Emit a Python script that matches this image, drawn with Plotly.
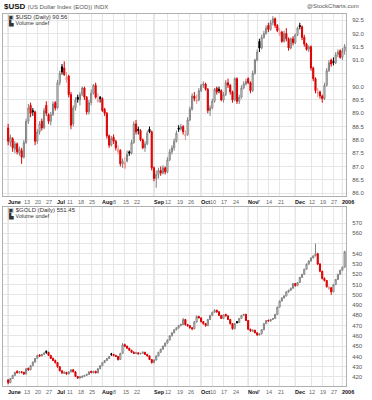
import plotly.graph_objects as go
import pandas as pd

# ---------------- data ----------------
usd_open = [88.45, 87.90, 88.05, 87.65, 87.85, 87.50, 87.60, 87.35, 87.90, 88.70,
 89.30, 89.10, 89.05, 87.95, 88.30, 88.70, 88.45, 89.30, 88.95, 88.70,
 88.95, 89.40, 89.20, 90.15, 90.75, 90.70, 90.25, 90.40, 89.70, 88.60,
 89.20, 89.60, 89.50, 89.70, 89.95, 89.60, 89.05, 89.40, 89.75, 90.05,
 89.45, 89.60, 89.55, 89.15, 89.00, 88.15, 87.80, 88.10, 87.95, 87.55,
 87.60, 87.10, 86.95, 87.20, 87.55, 87.50, 87.90, 88.60, 88.40, 88.35,
 88.00, 87.70, 87.85, 88.40, 88.30, 86.95, 86.55, 86.70, 86.85, 86.75,
 86.95, 86.80, 87.25, 87.55, 87.70, 87.95, 88.45, 88.40, 88.50, 88.15,
 88.20, 88.75, 89.15, 89.65, 89.45, 89.50, 89.85, 90.05, 90.10, 89.90,
 89.10, 89.20, 89.45, 89.95, 89.90, 89.85, 89.50, 89.70, 90.15, 90.05,
 89.80, 89.50, 90.30, 89.45, 89.60, 89.95, 90.10, 90.30, 90.15, 89.85,
 90.50, 91.00, 91.70, 91.45, 91.85, 92.00, 92.30, 92.15, 92.40, 92.55,
 92.30, 91.95, 92.05, 91.70, 92.00, 91.80, 91.45, 91.80, 91.65, 91.95,
 92.30, 92.25, 91.85, 91.60, 91.40, 91.50, 90.70, 90.30, 89.75, 89.80,
 89.65, 89.55, 90.05, 90.60, 91.00, 90.95, 90.90, 91.20, 91.35, 91.10,
 91.35]
usd_high = [88.60, 88.20, 88.10, 87.95, 87.90, 87.75, 87.70, 88.00, 88.80, 89.35,
 89.40, 89.20, 89.10, 88.40, 88.70, 88.80, 89.20, 89.45, 89.00, 89.05,
 89.45, 89.45, 90.25, 90.60, 90.85, 90.95, 90.55, 90.45, 89.80, 89.30,
 89.60, 89.70, 89.80, 90.00, 90.00, 89.65, 89.50, 89.90, 90.10, 90.15,
 89.75, 89.65, 89.60, 89.20, 89.05, 88.20, 88.15, 88.20, 88.00, 87.80,
 87.65, 87.30, 87.35, 87.60, 87.60, 88.00, 88.70, 88.75, 88.50, 88.40,
 88.05, 87.95, 88.35, 88.50, 88.35, 87.00, 86.85, 86.95, 87.00, 87.05,
 87.00, 87.35, 87.65, 87.80, 88.05, 88.35, 88.55, 88.60, 88.55, 88.35,
 88.85, 89.25, 89.75, 89.80, 89.70, 89.95, 90.10, 90.20, 90.15, 89.95,
 89.30, 89.55, 89.95, 90.00, 90.00, 89.90, 89.80, 90.25, 90.30, 90.10,
 89.85, 90.35, 90.35, 89.70, 90.05, 90.20, 90.30, 90.35, 90.20, 90.60,
 91.05, 91.40, 91.80, 91.95, 92.10, 92.30, 92.40, 92.50, 92.65, 92.60,
 92.35, 92.20, 92.10, 92.10, 92.20, 91.85, 91.85, 91.90, 92.00, 92.25,
 92.40, 92.30, 91.95, 91.65, 91.55, 91.55, 90.75, 90.35, 89.95, 89.85,
 89.70, 90.15, 90.70, 91.00, 91.05, 91.10, 91.30, 91.40, 91.40, 91.45,
 91.60]
usd_low = [87.80, 87.75, 87.55, 87.50, 87.45, 87.40, 87.10, 87.30, 87.85, 88.60,
 88.85, 88.90, 87.80, 87.85, 88.20, 88.35, 88.40, 88.90, 88.60, 88.55,
 88.90, 89.10, 89.15, 90.05, 90.45, 90.40, 90.15, 89.60, 88.40, 88.50,
 89.10, 89.40, 89.30, 89.65, 89.50, 88.95, 88.95, 89.30, 89.70, 89.55,
 89.40, 89.40, 89.05, 88.90, 88.05, 87.70, 87.75, 87.85, 87.60, 87.45,
 87.00, 86.95, 86.90, 87.15, 87.40, 87.45, 87.85, 88.20, 88.20, 87.95,
 87.65, 87.55, 87.80, 88.25, 86.85, 86.45, 86.20, 86.55, 86.65, 86.70,
 86.70, 86.75, 87.20, 87.45, 87.60, 87.90, 88.30, 88.35, 88.20, 88.00,
 88.15, 88.70, 89.10, 89.45, 89.35, 89.45, 89.80, 89.95, 89.85, 89.00,
 88.90, 89.15, 89.40, 89.70, 89.75, 89.45, 89.40, 89.65, 89.95, 89.70,
 89.40, 89.45, 89.35, 89.35, 89.55, 89.90, 90.05, 90.10, 89.75, 89.80,
 90.45, 90.95, 91.30, 91.40, 91.80, 91.95, 92.05, 92.10, 92.30, 92.20,
 92.05, 91.90, 91.65, 91.65, 91.70, 91.35, 91.40, 91.55, 91.60, 91.90,
 92.15, 91.75, 91.50, 91.35, 91.30, 90.60, 90.20, 89.75, 89.60, 89.55,
 89.40, 89.50, 90.00, 90.55, 90.75, 90.80, 90.85, 91.10, 91.05, 91.00,
 91.20]
usd_close = [87.95, 88.10, 87.70, 87.85, 87.55, 87.65, 87.35, 87.90, 88.70, 89.20,
 89.00, 89.05, 87.95, 88.30, 88.60, 88.45, 89.10, 89.00, 88.70, 88.95,
 89.35, 89.20, 90.15, 90.50, 90.55, 90.45, 90.35, 89.70, 88.55, 89.20,
 89.50, 89.52, 89.70, 89.95, 89.60, 89.05, 89.40, 89.75, 90.05, 89.60,
 89.50, 89.55, 89.10, 89.00, 88.15, 87.80, 88.05, 87.95, 87.70, 87.65,
 87.10, 87.20, 87.15, 87.45, 87.50, 87.90, 88.60, 88.30, 88.35, 88.00,
 87.70, 87.85, 88.25, 88.30, 86.95, 86.55, 86.70, 86.85, 86.75, 86.95,
 86.80, 87.25, 87.55, 87.70, 87.95, 88.25, 88.40, 88.50, 88.30, 88.20,
 88.75, 89.15, 89.65, 89.55, 89.50, 89.85, 90.05, 90.10, 89.90, 89.10,
 89.20, 89.45, 89.90, 89.80, 89.85, 89.50, 89.70, 90.15, 90.05, 89.80,
 89.50, 90.30, 89.45, 89.60, 89.95, 90.10, 90.20, 90.15, 89.85, 90.50,
 91.00, 91.30, 91.45, 91.85, 92.00, 92.20, 92.15, 92.40, 92.55, 92.30,
 92.10, 92.05, 91.70, 92.00, 91.80, 91.45, 91.80, 91.65, 91.95, 92.20,
 92.25, 91.85, 91.60, 91.40, 91.50, 90.70, 90.30, 89.85, 89.80, 89.65,
 89.55, 90.05, 90.60, 90.90, 90.85, 90.90, 91.20, 91.30, 91.10, 91.35,
 91.50]

gold_open = [417.0, 414.5, 418.5, 421.5, 425.5, 424.0, 425.0, 424.5, 423.0, 428.5,
 427.0, 431.0, 434.5, 438.0, 441.5, 440.5, 442.0, 445.0, 444.0, 441.0,
 438.0, 436.0, 434.0, 430.0, 426.0, 423.5, 424.5, 423.0, 425.0, 427.0,
 425.0, 420.5, 419.0, 419.5, 420.5, 421.5, 422.5, 425.5, 424.0, 425.5,
 424.0, 428.0, 431.0, 434.0, 436.0, 438.0, 442.5, 442.0, 441.0, 440.0,
 437.0, 443.0, 451.5, 450.0, 448.0, 446.0, 444.0, 443.0, 443.5, 442.5,
 443.0, 444.0, 442.0, 440.5, 437.0, 434.0, 436.5, 440.5, 444.0, 447.0,
 450.0, 453.0, 456.0, 460.0, 463.0, 466.0, 468.0, 470.0, 471.0, 476.0,
 471.0, 470.0, 468.0, 467.0, 473.5, 479.0, 477.5, 474.0, 472.0, 470.0,
 476.0, 480.0, 483.0, 485.0, 483.5, 480.0, 477.0, 481.0, 479.5, 476.0,
 472.0, 467.0, 474.0, 473.0, 477.0, 480.0, 481.0, 475.0, 466.5, 464.5,
 465.5, 463.0, 461.0, 462.0, 466.0, 472.0, 475.0, 474.5, 476.0, 477.0,
 481.0, 488.0, 494.0, 497.0, 499.0, 503.0, 504.5, 506.5, 511.0, 509.0,
 512.0, 517.0, 520.0, 525.0, 530.0, 533.0, 536.0, 538.0, 540.0, 530.0,
 523.0, 516.0, 514.0, 506.0, 507.0, 503.0, 510.0, 515.0, 520.0, 524.0,
 527.0]
gold_high = [418.0, 419.0, 422.0, 425.0, 426.5, 425.5, 425.5, 425.0, 428.5, 429.0,
 431.5, 435.0, 438.5, 441.5, 442.0, 442.5, 444.5, 446.0, 444.5, 441.5,
 439.0, 437.0, 434.5, 430.5, 426.5, 425.5, 425.0, 425.5, 427.5, 427.5,
 425.5, 421.0, 421.0, 421.5, 422.0, 423.0, 425.5, 426.0, 426.0, 426.0,
 428.5, 431.5, 434.5, 436.5, 438.5, 440.5, 443.5, 442.5, 441.5, 440.5,
 443.5, 453.0, 452.5, 450.5, 448.5, 446.5, 445.0, 444.5, 444.0, 443.5,
 445.0, 444.5, 442.5, 441.0, 437.5, 437.0, 441.0, 444.5, 447.5, 450.5,
 453.5, 456.5, 460.5, 463.5, 466.5, 468.5, 470.5, 472.0, 477.5, 476.5,
 471.5, 470.5, 468.5, 474.5, 480.0, 479.5, 478.0, 474.5, 472.5, 476.5,
 480.5, 483.5, 486.0, 485.5, 484.0, 480.5, 481.0, 481.5, 480.0, 476.5,
 472.5, 472.5, 474.5, 477.5, 480.5, 481.5, 481.5, 475.5, 467.0, 466.5,
 466.0, 463.5, 462.5, 466.5, 472.5, 475.5, 476.0, 476.5, 477.5, 481.5,
 488.5, 494.5, 497.5, 499.5, 503.5, 505.0, 507.0, 511.5, 511.5, 512.5,
 517.5, 520.5, 525.5, 530.5, 533.5, 536.5, 538.5, 550.0, 541.0, 531.0,
 523.5, 517.0, 514.5, 509.0, 507.5, 510.5, 515.5, 520.5, 524.5, 527.5,
 543.0]
gold_low = [413.0, 414.0, 418.0, 421.0, 423.5, 423.5, 423.5, 422.0, 422.5, 426.0,
 426.5, 430.5, 434.0, 437.5, 439.5, 440.0, 441.5, 442.5, 440.5, 437.5,
 435.5, 433.0, 429.0, 425.5, 423.0, 423.0, 422.0, 422.5, 424.5, 424.5,
 420.0, 418.0, 418.5, 419.0, 420.0, 421.0, 422.0, 423.5, 423.5, 423.5,
 423.5, 427.5, 430.5, 433.5, 435.5, 437.5, 440.5, 440.0, 439.5, 436.0,
 436.5, 442.5, 449.0, 447.5, 445.5, 443.5, 442.5, 442.5, 442.0, 442.0,
 442.5, 441.5, 440.0, 436.5, 433.0, 433.5, 436.0, 440.0, 443.5, 446.5,
 449.5, 452.5, 455.5, 459.5, 462.5, 465.5, 467.0, 469.5, 470.5, 470.0,
 469.0, 467.0, 465.5, 466.5, 473.0, 477.0, 473.0, 471.0, 469.0, 469.5,
 475.5, 479.5, 482.5, 482.5, 479.5, 476.5, 476.5, 479.0, 475.5, 471.0,
 466.0, 466.5, 472.0, 472.5, 476.5, 479.5, 474.5, 466.0, 464.0, 464.0,
 462.5, 460.0, 460.5, 461.5, 465.5, 471.5, 474.0, 474.0, 475.5, 476.5,
 480.5, 487.5, 493.5, 496.5, 498.5, 502.0, 504.0, 506.0, 508.0, 508.5,
 511.5, 516.5, 519.5, 524.5, 529.5, 532.5, 535.5, 537.5, 529.0, 522.0,
 515.0, 513.0, 507.0, 505.0, 500.0, 502.5, 509.5, 514.5, 519.5, 523.5,
 526.5]
gold_close = [414.5, 418.5, 421.5, 424.5, 424.0, 425.0, 424.5, 423.0, 428.0, 427.0,
 431.0, 434.5, 438.0, 441.0, 440.5, 442.0, 443.0, 444.0, 441.0, 438.0,
 436.0, 434.0, 430.0, 426.0, 424.0, 424.5, 423.0, 425.0, 427.0, 425.0,
 420.5, 419.0, 420.0, 420.5, 421.5, 422.5, 425.0, 424.5, 425.5, 424.0,
 428.0, 431.0, 434.0, 436.0, 438.0, 440.0, 442.0, 441.0, 440.0, 437.0,
 443.0, 451.5, 450.0, 448.0, 446.0, 444.0, 443.0, 443.5, 442.5, 443.0,
 444.0, 442.0, 440.5, 437.0, 434.0, 436.5, 440.5, 444.0, 447.0, 450.0,
 453.0, 456.0, 460.0, 463.0, 466.0, 468.0, 470.0, 471.0, 476.0, 471.0,
 470.0, 468.0, 467.0, 473.5, 479.0, 477.5, 474.0, 472.0, 470.0, 476.0,
 480.0, 483.0, 485.0, 483.5, 480.0, 477.0, 480.5, 479.5, 476.0, 472.0,
 467.0, 472.0, 473.0, 477.0, 480.0, 481.0, 475.0, 466.5, 465.0, 465.5,
 463.0, 461.0, 462.0, 466.0, 472.0, 475.0, 474.5, 476.0, 477.0, 481.0,
 488.0, 494.0, 497.0, 499.0, 503.0, 504.5, 506.5, 511.0, 509.0, 512.0,
 517.0, 520.0, 525.0, 530.0, 533.0, 536.0, 538.0, 540.0, 530.0, 523.0,
 516.0, 514.0, 508.0, 507.0, 503.0, 510.0, 515.0, 520.0, 524.0, 527.0,
 542.0]

holidays = ["2005-07-04", "2005-09-05", "2005-11-24", "2005-12-26", "2006-01-02"]
month_labels = [("2005-06-01", "June"), ("2005-07-01", "Jul"), ("2005-08-01", "Aug"),
                ("2005-09-01", "Sep"), ("2005-10-03", "Oct"), ("2005-11-01", "Nov"),
                ("2005-12-01", "Dec"), ("2006-01-03", "2006")]
day_labels = [("2005-06-13", "13"), ("2005-06-20", "20"), ("2005-06-27", "27"),
              ("2005-07-11", "11"), ("2005-07-18", "18"), ("2005-07-25", "25"),
              ("2005-08-08", "8"), ("2005-08-15", "15"), ("2005-08-22", "22"),
              ("2005-09-12", "12"), ("2005-09-19", "19"), ("2005-09-26", "26"),
              ("2005-10-10", "10"), ("2005-10-17", "17"), ("2005-10-24", "24"),
              ("2005-11-07", "7"), ("2005-11-14", "14"), ("2005-11-21", "21"),
              ("2005-12-12", "12"), ("2005-12-19", "19"), ("2005-12-27", "27")]
usd_ticks = [86.0, 86.5, 87.0, 87.5, 88.0, 88.5, 89.0, 89.5, 90.0, 90.5, 91.0, 91.5, 92.0, 92.5]
usd_ticktext = ["86.0", "86.5", "87.0", "87.5", "88.0", "88.5", "89.0", "89.5", "90.0", "",
                "91.0", "91.5", "92.0", "92.5"]
gold_ticks = [420, 430, 440, 450, 460, 470, 480, 490, 500, 510, 520, 530, 540, 550, 560, 570]
gold_ticktext = ["420", "430", "440", "450", "460", "470", "480", "490", "500", "510",
                 "520", "530", "540", "", "560", "570"]

# ---------------- build ----------------
n = len(usd_close)
dates = pd.bdate_range("2005-06-01", periods=n, freq="C", holidays=holidays)
date_pos = {d.strftime("%Y-%m-%d"): i for i, d in enumerate(dates)}
xs = list(range(n))

W, H = 372, 400
PX0, PX1 = 3, 346
TOP = (14, 196)
BOT = (207, 386)
FONT = "Liberation Sans"


def pdom(a, b):
    return [(H - b) / H, (H - a) / H]


STYLES = {
    "hb": dict(line="#808080", fill="#ffffff"),
    "hr": dict(line="#f09090", fill="#ffffff"),
    "fb": dict(line="#000000", fill="#000000"),
    "fr": dict(line="#dd0000", fill="#dd0000"),
}


def candle_traces(o, h, l, c, xa, ya):
    groups = {k: [] for k in STYLES}
    for i in range(len(c)):
        prev = c[i - 1] if i > 0 else o[i]
        hollow = c[i] >= o[i]
        up = c[i] >= prev
        groups[("h" if hollow else "f") + ("b" if up else "r")].append(i)
    out = []
    for k, idx in groups.items():
        st = STYLES[k]
        sty = dict(line=dict(color=st["line"], width=1), fillcolor=st["fill"])
        out.append(go.Candlestick(
            x=[xs[i] for i in idx], open=[o[i] for i in idx], high=[h[i] for i in idx],
            low=[l[i] for i in idx], close=[c[i] for i in idx],
            increasing=sty, decreasing=sty, whiskerwidth=0,
            xaxis=xa, yaxis=ya, showlegend=False, hoverinfo="skip"))
    return out


fig = go.Figure()
for t in candle_traces(usd_open, usd_high, usd_low, usd_close, "x", "y"):
    fig.add_trace(t)
for t in candle_traces(gold_open, gold_high, gold_low, gold_close, "x2", "y2"):
    fig.add_trace(t)

month_pos = [date_pos[d] for d, _ in month_labels]
day_pos = [date_pos[d] for d, _ in day_labels]
grid_x = sorted(month_pos + day_pos)
xr = [-2.3, 150.6]

xcommon = dict(range=xr, showticklabels=False, tickvals=grid_x, showgrid=True,
               gridcolor="#e6e6e6", gridwidth=1, zeroline=False, showline=True,
               linecolor="#b0b0b0", linewidth=1, mirror=True, ticks="",
               rangeslider=dict(visible=False), fixedrange=True,
               domain=[PX0 / W, PX1 / W])
ycommon = dict(side="right", showgrid=True, gridcolor="#e6e6e6", gridwidth=1,
               zeroline=False, showline=True, linecolor="#b0b0b0", linewidth=1,
               mirror=True, ticks="outside", ticklen=4, tickcolor="rgba(0,0,0,0)",
               tickfont=dict(family=FONT, size=6, color="#555555"),
               fixedrange=True)

fig.update_layout(
    width=W, height=H, margin=dict(l=0, r=0, t=0, b=0),
    paper_bgcolor="white", plot_bgcolor="white", boxgap=0.3,
    xaxis=dict(**xcommon, anchor="y"),
    xaxis2=dict(**xcommon, anchor="y2"),
    yaxis=dict(**ycommon, domain=pdom(*TOP), range=[85.89, 92.73],
               tickvals=usd_ticks, ticktext=usd_ticktext, anchor="x"),
    yaxis2=dict(**ycommon, domain=pdom(*BOT), range=[411.2, 585.6],
                tickvals=gold_ticks, ticktext=gold_ticktext, anchor="x2"),
)

shapes = []
for xa, ya in (("x", "y"), ("x2", "y2")):
    for p in month_pos:
        shapes.append(dict(type="line", xref=xa, yref=ya + " domain", x0=p, x1=p, y0=0, y1=1,
                           line=dict(color="#c8c8c8", width=1), layer="below"))
fig.update_layout(shapes=shapes)

ann = []
for xa, ypx in (("x", 202), ("x2", 392)):
    for (d, txt) in month_labels:
        ann.append(dict(x=date_pos[d] - 1.0, y=(H - ypx) / H, xref=xa, yref="paper",
                        text="<b>" + txt + "</b>", showarrow=False, xanchor="left",
                        yanchor="middle", font=dict(family=FONT, size=5.5, color="#111111")))
    for (d, txt) in day_labels:
        ann.append(dict(x=date_pos[d] + 0.4, y=(H - ypx) / H, xref=xa, yref="paper",
                        text=txt, showarrow=False, xanchor="center",
                        yanchor="middle", font=dict(family=FONT, size=5.5, color="#666666")))

ann.append(dict(x=2 / W, y=(H - 6) / H, xref="paper", yref="paper", xanchor="left",
                yanchor="middle", showarrow=False,
                text="<b>$USD</b> <span style='font-size:6px;color:#555'>(US Dollar Index (EOD)) INDX</span>",
                font=dict(family=FONT, size=8, color="#111111")))
ann.append(dict(x=361 / W, y=(H - 6) / H, xref="paper", yref="paper", xanchor="right",
                yanchor="middle", showarrow=False, text="@StockCharts.com",
                font=dict(family=FONT, size=6, color="#555555")))
for (ytxt, t1, t2) in ((17, "$USD (Daily) 90.56", "Volume undef"),
                       (210, "$GOLD (Daily) 551.45", "Volume undef")):
    ann.append(dict(x=6 / W, y=(H - ytxt) / H, xref="paper", yref="paper", xanchor="left",
                    yanchor="middle", showarrow=False, text="▣ " + t1,
                    font=dict(family=FONT, size=6, color="#333333")))
    ann.append(dict(x=6 / W, y=(H - ytxt - 6) / H, xref="paper", yref="paper", xanchor="left",
                    yanchor="middle", showarrow=False, text="▙ " + t2,
                    font=dict(family=FONT, size=5.5, color="#333333")))
fig.update_layout(annotations=ann)

fig.write_html("out.html", config={"displayModeBar": False, "staticPlot": True},
               post_script="document.body.style.margin='0';document.body.style.padding='0';")
